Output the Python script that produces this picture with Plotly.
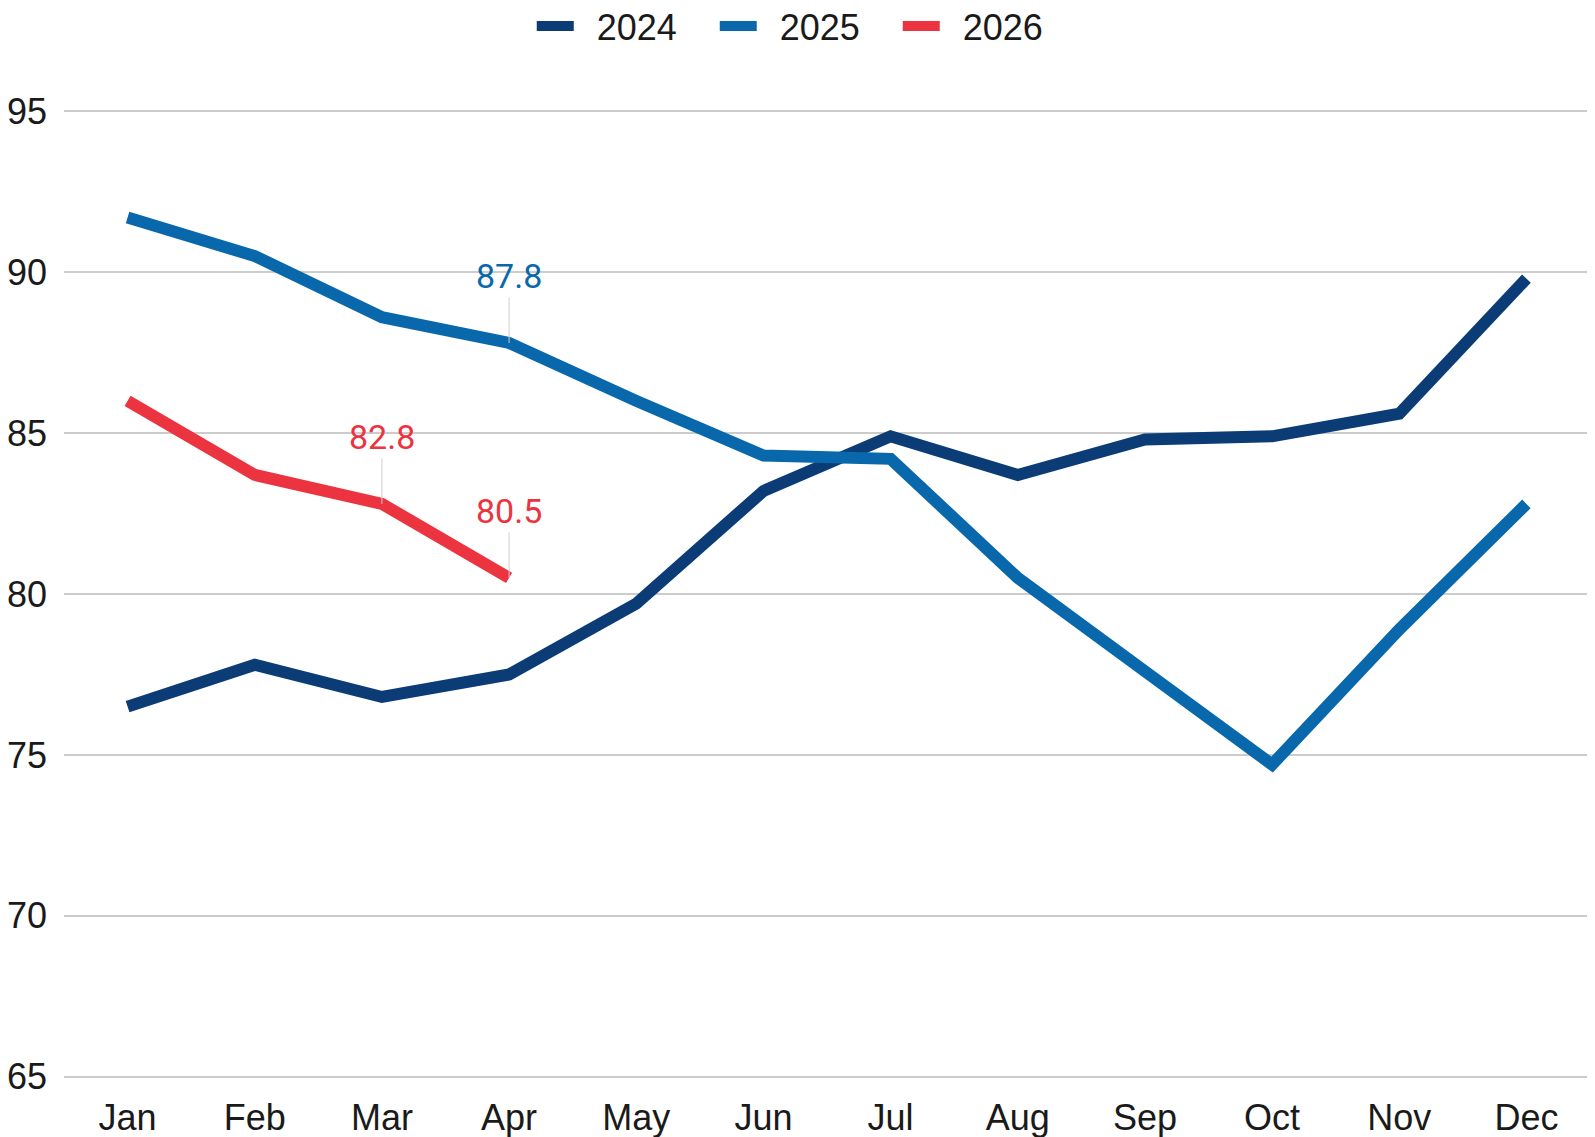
import plotly.graph_objects as go

months = ["Jan", "Feb", "Mar", "Apr", "May", "Jun", "Jul", "Aug", "Sep", "Oct", "Nov", "Dec"]
v2024 = [76.5, 77.8, 76.8, 77.5, 79.7, 83.2, 84.9, 83.7, 84.8, 84.9, 85.6, 89.8]
v2025 = [91.7, 90.5, 88.6, 87.8, 86.0, 84.3, 84.2, 80.5, 77.6, 74.7, 78.9, 82.8]
v2026 = [86.0, 83.7, 82.8, 80.5]
labels = [("2025", "Apr", 87.8), ("2026", "Mar", 82.8), ("2026", "Apr", 80.5)]
yticks = [65, 70, 75, 80, 85, 90, 95]

colors = {"2024": "#0b3c76", "2025": "#0868ab", "2026": "#ec3340"}
series = [("2024", v2024), ("2025", v2025), ("2026", v2026)]

fig = go.Figure()
for name, vals in series:
    fig.add_trace(go.Scatter(
        x=months[:len(vals)], y=vals, mode="lines", name="\u2002" + name,
        line=dict(color=colors[name], width=12),
    ))

for name, m, v in labels:
    fig.add_annotation(
        x=m, y=v, text=f"{v:.1f}", showarrow=True, arrowhead=0,
        arrowwidth=1, arrowcolor="#cfcfcf", ax=0, ay=-67,
        font=dict(family="Roboto", size=34, color=colors[name]),
    )

# page body has an 8px margin, so the figure is sized to fill the window from there
fig.update_layout(
    width=1587, height=1129,
    margin=dict(l=56, r=5, t=100, b=57),
    paper_bgcolor="white", plot_bgcolor="white",
    font=dict(family="Liberation Sans, Arial", size=36, color="#1a1a1a"),
    showlegend=True,
    legend=dict(orientation="h", xref="container", yref="container",
                x=0.503, xanchor="center", y=0.984, yanchor="middle",
                font=dict(size=36), itemwidth=37, entrywidth=131),
    xaxis=dict(type="category", categoryorder="array", categoryarray=months,
               range=[-0.5, 11.5], showgrid=False, zeroline=False, showline=False,
               ticks="", ticklabelstandoff=13, automargin=False),
    yaxis=dict(range=[64.9, 95.1], tickvals=yticks, showgrid=True, gridcolor="#cccccc",
               gridwidth=2, zeroline=False, showline=False, ticks="",
               ticklabelstandoff=16, automargin=False),
)

fig.write_html("out.html")
